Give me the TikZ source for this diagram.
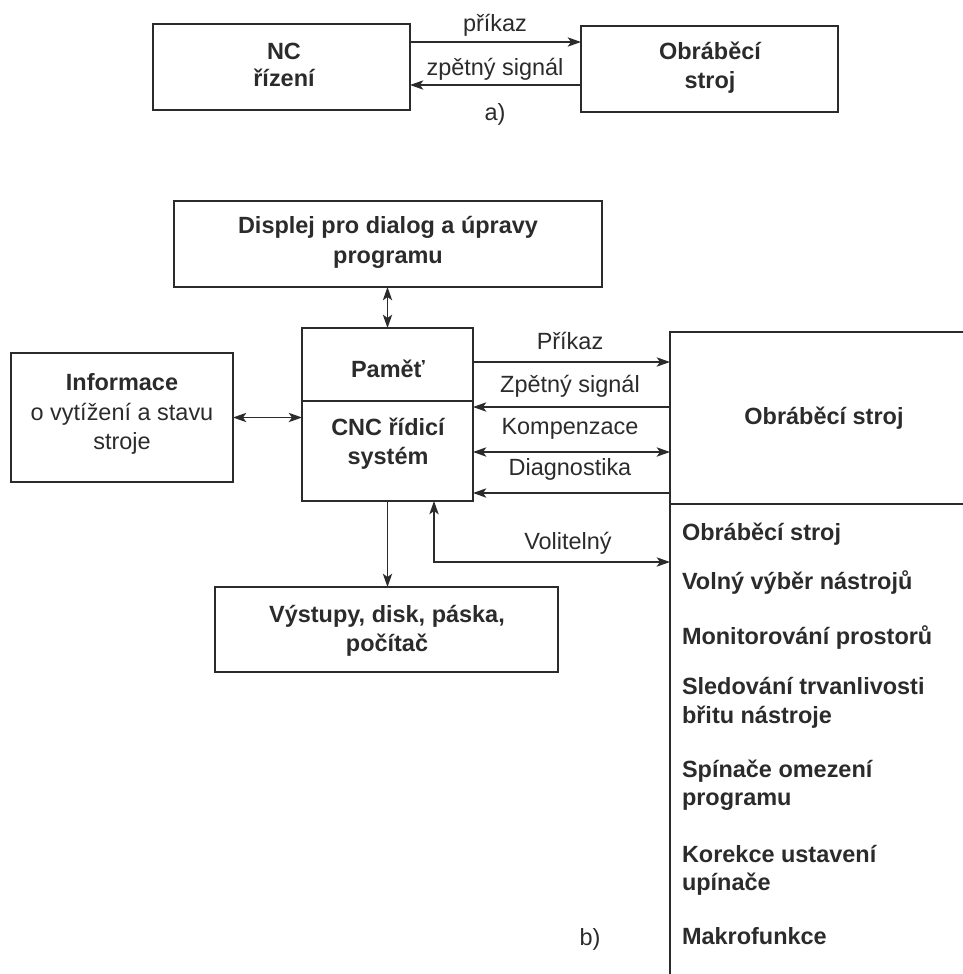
\documentclass[tikz,border=0pt]{standalone}
\usepackage{fontspec}
\setmainfont{Liberation Sans}
\usetikzlibrary{arrows.meta,fit}
\definecolor{ink}{HTML}{2B2B2B}
\begin{document}
\begin{tikzpicture}[x=0.75pt,y=-0.75pt,
  box/.style={draw=ink, line width=1pt, inner sep=0pt, outer sep=0pt},
  lbl/.style={anchor=base, inner sep=0pt, outer sep=0pt, text=ink, font=\fontsize{17.6pt}{21.8pt}\selectfont},
  blbl/.style={lbl, font=\fontsize{17.6pt}{21.8pt}\selectfont\bfseries},
  conn/.style={draw=ink, line width=1pt},
  tip/.tip={Stealth[length=10pt,width=7pt,inset=2.5pt]},
  arr/.style={conn, -tip},
  darr/.style={conn, tip-tip},
]
\useasboundingbox (0,0) rectangle (963,974);
\clip (0,0) rectangle (963,974);

% ---------- part a) ----------
\node[box, fit={(153,24) (410,110)}] (nc) {};
\node[box, fit={(581,26) (838,112)}] (ma) {};
\node[blbl] (ncT1) at (284,60) {NC};
\node[blbl] (ncT2) at (284,87) {řízení};
\node[blbl] (maT1) at (710,60) {Obráběcí};
\node[blbl] (maT2) at (710,89) {stroj};
\draw[arr] (nc.east |- 0,42) -- (ma.west |- 0,42);
\draw[arr] (ma.west |- 0,85) -- (nc.east |- 0,85);
\node[lbl] (lPrikaz) at (495,32) {příkaz};
\node[lbl] (lZpet) at (495,75) {zpětný signál};
\node[lbl] (la) at (495,120) {a)};

% ---------- part b) ----------
\node[box, fit={(174,201) (602,287)}] (disp) {};
\node[blbl] (dispT1) at (388,233) {Displej pro dialog a úpravy};
\node[blbl] (dispT2) at (388,263) {programu};

\node[box, fit={(302,328) (473,401)}] (mem) {};
\node[box, fit={(302,401) (473,501)}] (cnc) {};
\node[blbl] (memT) at (388,377) {Paměť};
\node[blbl] (cncT1) at (388,435) {CNC řídicí};
\node[blbl] (cncT2) at (388,464) {systém};

\node[box, fit={(11,353) (233,482)}] (info) {};
\node[blbl] (infoT1) at (122,390) {Informace};
\node[lbl] (infoT2) at (122,420) {o vytížení a stavu};
\node[lbl] (infoT3) at (122,449) {stroje};

\node[box, fit={(670,332) (1010,504)}] (mach) {};
\node[blbl] (machT) at (824,424) {Obráběcí stroj};
\node[box, fit={(670,504) (1010,1010)}] (opts) {};

\node[box, fit={(215,587) (558,672)}] (out) {};
\node[blbl] (outT1) at (387,622) {Výstupy, disk, páska,};
\node[blbl] (outT2) at (387,651) {počítač};

% connectors
\draw[darr] (disp.south -| mem.north) -- (mem.north);
\draw[darr] (info.east) -- (info.east -| cnc.west);
\draw[arr] (mem.east |- 0,362) -- (mach.west |- 0,362);
\draw[arr] (mach.west |- 0,407) -- (cnc.east |- 0,407);
\draw[darr] (cnc.east |- 0,452) -- (mach.west |- 0,452);
\draw[arr] (mach.west |- 0,493) -- (cnc.east |- 0,493);
\coordinate (volx) at (434,562);
\draw[darr] (cnc.south -| volx) |- (opts.west |- volx);
\draw[arr] (cnc.south) -- (cnc.south |- out.north);

\node[lbl] (lP) at (570,349) {Příkaz};
\node[lbl] (lZ) at (570,392) {Zpětný signál};
\node[lbl] (lK) at (570,434) {Kompenzace};
\node[lbl] (lD) at (570,475) {Diagnostika};
\node[lbl] (lV) at (568,549) {Volitelný};

% option list
\begin{scope}[every node/.style={blbl, anchor=base west}]
\node (o1) at (682,540) {Obráběcí stroj};
\node (o2) at (682,589) {Volný výběr nástrojů};
\node (o3) at (682,644) {Monitorování prostorů};
\node (o4a) at (682,694) {Sledování trvanlivosti};
\node (o4b) at (682,723) {břitu nástroje};
\node (o5a) at (682,777) {Spínače omezení};
\node (o5b) at (682,805) {programu};
\node (o6a) at (682,862) {Korekce ustavení};
\node (o6b) at (682,890) {upínače};
\node (o7) at (682,944) {Makrofunkce};
\end{scope}
\node[lbl] (lb) at (590,945) {b)};
\end{tikzpicture}
\end{document}
